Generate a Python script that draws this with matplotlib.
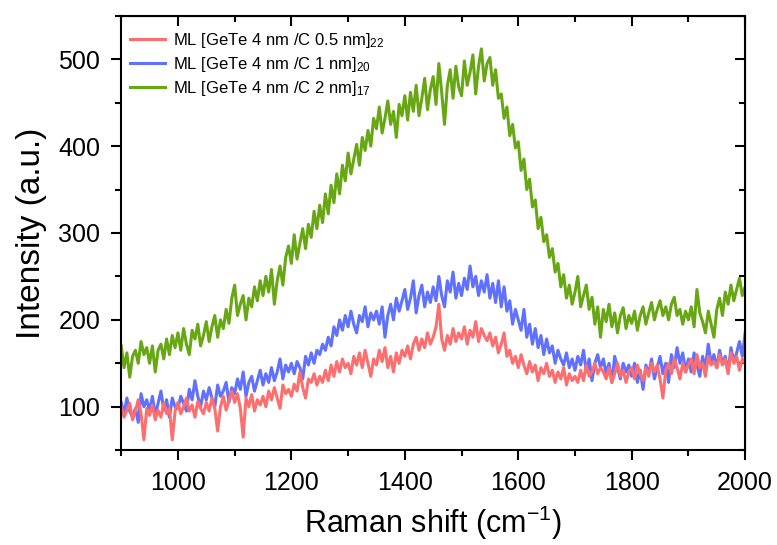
import numpy as np
import matplotlib
matplotlib.use("Agg")
import matplotlib.pyplot as plt
from matplotlib.ticker import MultipleLocator

plt.rcParams['font.family'] = ['Liberation Sans', 'DejaVu Sans']
plt.rcParams['mathtext.fontset'] = 'custom'
plt.rcParams['mathtext.rm'] = 'Liberation Sans'
plt.rcParams['mathtext.it'] = 'Liberation Sans:italic'

# Raman shift axis, 5 cm-1 steps
shift = np.arange(900, 2001, 5)

# ML [GeTe 4 nm /C 0.5 nm]22
red = [
    100, 88, 96, 104, 85, 95, 108, 92, 62, 98,
    90, 102, 85, 96, 88, 104, 92, 98, 62, 95,
    105, 92, 100, 110, 95, 102, 88, 106, 98, 92,
    105, 95, 110, 98, 72, 100, 112, 96, 108, 118,
    105, 115, 98, 65, 110, 100, 114, 95, 108, 102,
    112, 100, 118, 108, 122, 110, 98, 125, 115, 120,
    112, 126, 118, 140, 122, 110, 132, 128, 138, 125,
    135, 128, 142, 130, 148, 135, 152, 140, 155, 145,
    150, 138, 158, 148, 162, 145, 165, 150, 135, 155,
    148, 165, 152, 168, 145, 158, 140, 162, 150, 165,
    158, 170, 155, 172, 180, 165, 178, 168, 185, 172,
    180, 192, 218, 178, 165, 182, 172, 190, 175, 185,
    178, 192, 172, 188, 180, 198, 175, 190, 182, 176,
    185, 170, 180, 162, 172, 185, 158, 165, 150, 158,
    145, 160, 148, 138, 152, 140, 148, 130, 145, 138,
    150, 135, 142, 128, 140, 132, 145, 125, 138, 130,
    135, 128, 142, 130, 148, 135, 140, 150, 138, 145,
    140, 132, 145, 128, 138, 150, 135, 142, 128, 140,
    145, 132, 148, 138, 130, 145, 135, 150, 140, 148,
    132, 110, 142, 150, 138, 155, 145, 132, 150, 140,
    148, 155, 138, 160, 145, 150, 135, 158, 148, 152,
    145, 160, 148, 155, 138, 162, 150, 158, 142, 155,
    150,
]

# ML [GeTe 4 nm /C 1 nm]20
blue = [
    105, 92, 110, 95, 88, 98, 82, 115, 100, 108,
    95, 112, 90, 104, 118, 96, 108, 88, 110, 100,
    98, 112, 104, 95, 120, 108, 130, 112, 100, 118,
    108, 122, 110, 100, 125, 112, 118, 128, 105, 122,
    115, 132, 120, 140, 112, 128, 135, 118, 130, 142,
    125, 138, 128, 145, 130, 140, 155, 132, 148, 140,
    150, 138, 152, 145, 132, 158, 148, 162, 150, 165,
    160, 172, 165, 180, 170, 192, 182, 200, 188, 205,
    192, 210, 195, 185, 205, 198, 215, 192, 208, 200,
    210, 195, 215, 180, 205, 218, 200, 225, 210, 222,
    235, 212, 225, 245, 208, 228, 240, 215, 232, 220,
    238, 222, 250, 228, 215, 245, 232, 255, 225, 242,
    228, 248, 235, 262, 238, 250, 228, 245, 232, 252,
    225, 242, 220, 245, 215, 238, 210, 222, 195, 212,
    200, 188, 212, 180, 195, 172, 190, 168, 182, 160,
    178, 162, 170, 150, 165, 155, 148, 162, 145, 155,
    142, 158, 148, 165, 140, 155, 130, 150, 160, 145,
    155, 138, 150, 128, 158, 145, 132, 150, 140, 148,
    135, 150, 128, 142, 120, 148, 138, 155, 132, 145,
    158, 138, 150, 128, 160, 145, 168, 150, 162, 140,
    155, 140, 162, 148, 135, 158, 145, 172, 150, 160,
    145, 165, 150, 158, 140, 168, 152, 162, 175, 158,
    185,
]

# ML [GeTe 4 nm /C 2 nm]17
green = [
    170, 145, 162, 134, 158, 165, 150, 175, 160, 168,
    150, 170, 140, 165, 172, 155, 178, 160, 182, 168,
    185, 165, 190, 172, 160, 188, 178, 195, 170, 182,
    198, 175, 192, 205, 180, 200, 190, 212, 196, 225,
    240, 205, 218, 228, 200, 225, 215, 238, 222, 245,
    228, 250, 232, 258, 218, 245, 262, 240, 272, 285,
    265, 298, 270, 288, 305, 282, 310, 295, 325, 305,
    332, 312, 345, 322, 355, 335, 368, 345, 378, 360,
    392, 368, 385, 402, 378, 410, 395, 418, 400, 432,
    420, 445, 415, 432, 452, 425, 440, 410, 448, 435,
    458, 430, 462, 440, 470, 435, 455, 478, 442, 465,
    480, 448, 495, 462, 425, 470, 488, 455, 492, 468,
    458, 498, 470, 485, 505, 460, 492, 512, 475, 495,
    502, 470, 488, 455, 460, 432, 445, 412, 425, 398,
    405, 372, 385, 350, 362, 330, 338, 305, 318, 290,
    298, 272, 282, 255, 265, 238, 252, 225, 240, 218,
    232, 250, 215, 228, 240, 212, 226, 195, 215, 180,
    212, 198, 218, 192, 208, 185, 205, 214, 190, 205,
    196, 210, 188, 205, 215, 195, 208, 220, 200, 212,
    222, 205, 215, 200, 218, 226, 205, 212, 195, 210,
    200, 215, 192, 235, 208, 198, 185, 210, 195, 180,
    212, 225, 205, 232, 218, 240, 222, 235, 248, 228,
    238,
]

labels = [
    r"ML [GeTe 4 nm /C 0.5 nm]$_{\mathrm{22}}$",
    r"ML [GeTe 4 nm /C 1 nm]$_{\mathrm{20}}$",
    r"ML [GeTe 4 nm /C 2 nm]$_{\mathrm{17}}$",
]
colors = ["#FF6E6E", "#6070FF", "#68A714"]

fig = plt.figure(figsize=(7.77, 5.45), dpi=100)
ax = fig.add_axes([0.156, 0.174, 0.803, 0.797])

lb, = ax.plot(shift, blue, color=colors[1], lw=2.2, label=labels[1])
lr, = ax.plot(shift, red, color=colors[0], lw=2.2, label=labels[0])
lg, = ax.plot(shift, green, color=colors[2], lw=2.2, label=labels[2])

ax.set_xlim(900, 2000)
ax.set_ylim(50, 550)
ax.xaxis.set_major_locator(MultipleLocator(200))
ax.xaxis.set_minor_locator(MultipleLocator(100))
ax.yaxis.set_major_locator(MultipleLocator(100))
ax.yaxis.set_minor_locator(MultipleLocator(50))

for sp in ax.spines.values():
    sp.set_linewidth(1.5)
ax.tick_params(which='major', direction='out', length=7, width=1.5,
               labelsize=18, pad=8)
ax.tick_params(which='minor', direction='out', length=4, width=1.5)

# mirrored ticks pointing inward on top and right
top = ax.secondary_xaxis('top')
top.xaxis.set_major_locator(MultipleLocator(200))
top.xaxis.set_minor_locator(MultipleLocator(100))
top.tick_params(which='major', direction='in', length=7, width=1.5, labeltop=False)
top.tick_params(which='minor', direction='in', length=4, width=1.5)
right = ax.secondary_yaxis('right')
right.yaxis.set_major_locator(MultipleLocator(100))
right.yaxis.set_minor_locator(MultipleLocator(50))
right.tick_params(which='major', direction='in', length=7, width=1.5, labelright=False)
right.tick_params(which='minor', direction='in', length=4, width=1.5)

ax.set_xlabel(r"Raman shift (cm$^{\mathrm{-1}}$)", fontsize=22, labelpad=6)
ax.set_ylabel("Intensity (a.u.)", fontsize=24, labelpad=8)

ax.legend(handles=[lr, lb, lg], loc='upper left', bbox_to_anchor=(0.0, 0.984),
          frameon=False, fontsize=12, handlelength=2.1, handletextpad=0.5,
          labelspacing=0.3, borderaxespad=0.3, borderpad=0.2)

fig.savefig("out.png", dpi=100)
